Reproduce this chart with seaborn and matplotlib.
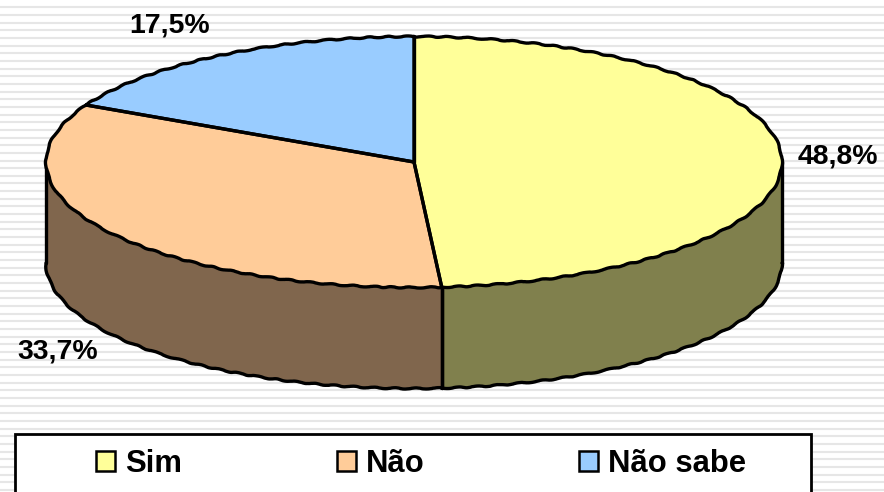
import numpy as np
import matplotlib
matplotlib.use("Agg")
import matplotlib.pyplot as plt
from matplotlib.patches import Patch, Rectangle
import seaborn as sns

categories = ["Sim", "Não", "Não sabe"]
values = [48.8, 33.7, 17.5]
colors = ["#FFFF99", "#FFCC99", "#99CCFF"]

W, H = 884, 492
CX, CY, RX, RY, DEPTH = 414, 162, 368, 125.5, 101
FONT = "Liberation Sans"

sns.set_theme(style="white")
palette = sns.color_palette(colors)
fig = plt.figure(figsize=(W / 100, H / 100), dpi=100, facecolor="white")
ax = fig.add_axes([0, 0, 1, 1])


def px(x, y):
    return (x - CX) / RX, (CY - y) / RY


d = DEPTH / RY
LW = 2.4
SK = (0.6, 22, 2)

# striped slide background
for y in np.arange(7.3, H, 7.66):
    ax.axhline(px(0, y)[1], color="#E6E6E6", lw=1.5, zorder=0)

# top face through the library's pie
wedges, _ = ax.pie(values, colors=palette, startangle=90, counterclock=False,
                   radius=1, center=(0, 0), wedgeprops=dict(linewidth=0, zorder=4))
ax.set_aspect("auto")
ax.set_xlim(px(0, 0)[0], px(W, 0)[0])
ax.set_ylim(px(0, H)[1], px(0, 0)[1])
ax.axis("off")

# side walls and outline, from the wedge angles
for w, col in zip(wedges, palette):
    t1, t2 = w.theta1, w.theta2
    t = np.radians(np.linspace(t1, t2, 240))
    ln, = ax.plot(np.cos(t), np.sin(t), color="black", lw=LW, zorder=6)
    ln.set_sketch_params(*SK)
    # radial edges
    ax.plot([0, np.cos(np.radians(t1))], [0, np.sin(np.radians(t1))], color="black", lw=LW, zorder=6)
    ax.plot([0, np.cos(np.radians(t2))], [0, np.sin(np.radians(t2))], color="black", lw=LW, zorder=6)
    # front wall: the part of the rim in the lower half of the ellipse
    lo, hi = t1, t2
    segs = []
    for base in (-360, 0):
        a, b = max(lo, base + 180), min(hi, base + 360)
        if b > a:
            segs.append((a, b))
    for a, b in segs:
        r = np.radians(np.linspace(a, b, 240))
        xs = np.cos(r)
        ax.fill_between(xs, np.sin(r), np.sin(r) - d, color=tuple(c * 0.5 for c in col), lw=0, zorder=2)
        bl, = ax.plot(xs, np.sin(r) - d, color="black", lw=LW, zorder=3)
        bl.set_sketch_params(*SK)
        for e in (a, b):
            ex = np.cos(np.radians(e))
            ey = np.sin(np.radians(e))
            ax.plot([ex, ex], [ey, ey - d], color="black", lw=LW, zorder=3)

# percentage labels
label_px = [(838, 156), (58, 351), (170, 25)]
for (x, y), v in zip(label_px, values):
    ax.text(*px(x, y), f"{v:.1f}%".replace(".", ","), ha="center", va="center",
            family=FONT, weight="bold", size=20.4, color="black", zorder=8)

# legend box, running off the bottom of the slide
x0, y0 = px(15, 434)
x1, y1 = px(811, 520)
ax.add_patch(Rectangle((x0, y1), x1 - x0, y0 - y1, fc="white", ec="black", lw=2.0, zorder=7))
handles = [Patch(facecolor=c, edgecolor="black", lw=1.8) for c in palette]
leg = ax.legend(handles, categories, ncols=3, frameon=False, loc="center left",
                bbox_to_anchor=px(96, 464), bbox_transform=ax.transData, borderaxespad=0, borderpad=0,
                prop=dict(family=FONT, weight="bold", size=22.3), handlelength=0.62, handleheight=0.62,
                handletextpad=0.33, columnspacing=4.98, labelcolor="black")
leg.set_zorder(9)

fig.savefig("out.png", dpi=100, facecolor="white")
